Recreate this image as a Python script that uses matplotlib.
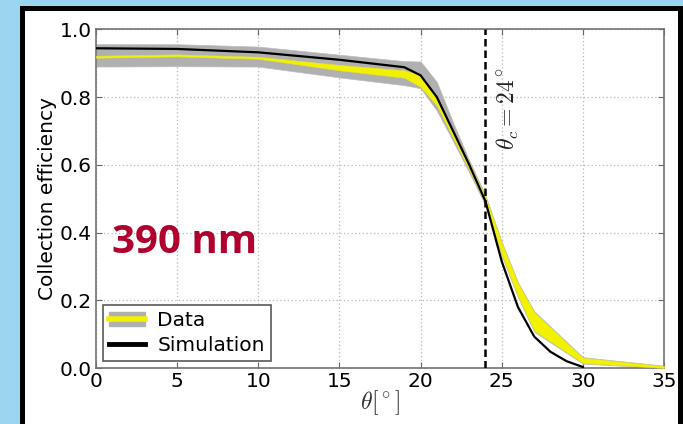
import matplotlib
matplotlib.use('Agg')
import matplotlib.pyplot as plt
from matplotlib.patches import Patch, Rectangle
from matplotlib.lines import Line2D

#%% datos
# datos medidos: banda estadistica (amarilla) y sistematica (gris)
data_x = [0, 5, 10, 15, 19, 20, 21, 22, 23, 24, 25, 26, 27, 30, 35]
stat_lo = [0.916, 0.920, 0.913, 0.879, 0.857, 0.830, 0.775, 0.680, 0.585, 0.485, 0.335, 0.212, 0.110, 0.015, 0.000]
stat_hi = [0.922, 0.926, 0.919, 0.895, 0.879, 0.866, 0.800, 0.700, 0.605, 0.505, 0.370, 0.250, 0.165, 0.030, 0.006]
sys_lo = [0.890, 0.891, 0.890, 0.858, 0.835, 0.826, 0.760, 0.670, 0.577, 0.480, 0.331, 0.209, 0.107, 0.013, 0.000]
sys_hi = [0.956, 0.956, 0.949, 0.925, 0.906, 0.905, 0.845, 0.725, 0.613, 0.510, 0.373, 0.253, 0.168, 0.032, 0.007]

# simulacion
sim_x = [0, 5, 10, 15, 19, 20, 21, 22, 23, 24, 25, 26, 27, 28, 29, 30]
sim_y = [0.944, 0.942, 0.932, 0.910, 0.888, 0.864, 0.800, 0.700, 0.600, 0.492, 0.315, 0.180, 0.093, 0.048, 0.020, 0.003]

theta_c = 24
x_ticks = [0, 5, 10, 15, 20, 25, 30, 35]
y_ticks = [0.0, 0.2, 0.4, 0.6, 0.8, 1.0]

#%% figura
plt.rcParams['mathtext.fontset'] = 'cm'
fs = 14.5

fig = plt.figure(figsize=(6.83, 4.24), dpi=100, facecolor='#9AD6F0')
# marco blanco con borde negro
W, H = 683., 424.
fig.patches.append(Rectangle((22 / W, -0.05), (679.5 - 22) / W, 1.05 - 8.5 / H,
                             transform=fig.transFigure, facecolor='white',
                             edgecolor='black', lw=3.6, zorder=-1))

ax = fig.add_axes([96 / W, 1 - 368 / H, (664 - 96) / W, (368 - 29.3) / H])
ax.set_facecolor('white')

ax.fill_between(data_x, sys_lo, sys_hi, color='#B0B0B0', lw=0.5, edgecolor='#BDBDBD', zorder=2)
ax.fill_between(data_x, stat_lo, stat_hi, color='#F2F200', lw=0.4, edgecolor='#E0E040', zorder=3)
ax.plot(sim_x, sim_y, color='black', lw=1.6, zorder=4)
ax.axvline(theta_c, color='black', ls=(0, (3, 1.6)), lw=1.8, zorder=5)
ax.text(25.4, 0.765, r'$\theta_c = %d^\circ$' % theta_c, rotation=90,
        ha='center', va='center', fontsize=17, color='#222222')

ax.text(1.0, 0.37, '390 nm', fontsize=29, fontweight='bold', color='#B0002E',
        family='Open Sans', ha='left', va='center')

ax.set_xlim(0, 35)
ax.set_ylim(0, 1.0)
ax.set_xticks(x_ticks)
ax.set_yticks(y_ticks)
ax.set_yticklabels(['%.1f' % v for v in y_ticks])
ax.tick_params(direction='in', top=True, right=True, labelsize=fs, length=4,
               color='0.4', pad=3)
ax.grid(True, color='0.72', ls=(0, (1, 2)), lw=0.9)
for s in ax.spines.values():
    s.set_color('0.45')
    s.set_linewidth(1.2)

ax.set_xlabel(r'$\theta[^\circ]$', fontsize=17, labelpad=-2, color='#333333')
ax.set_ylabel('Collection efficiency', fontsize=fs, labelpad=2)

h_data = (Patch(facecolor='#B0B0B0', edgecolor='#B0B0B0'),
          Line2D([], [], color='#F2F200', lw=4))
h_sim = Line2D([], [], color='black', lw=3.5)
leg = ax.legend([h_data, h_sim], ['Data', 'Simulation'], loc='lower left',
                fontsize=fs, fancybox=False, framealpha=1, borderaxespad=0.35,
                handlelength=1.8, handletextpad=0.6, borderpad=0.3, labelspacing=0.3)
leg.get_frame().set_edgecolor('0.35')
leg.get_frame().set_linewidth(1.2)

fig.savefig('out.png', dpi=100, facecolor=fig.get_facecolor())
